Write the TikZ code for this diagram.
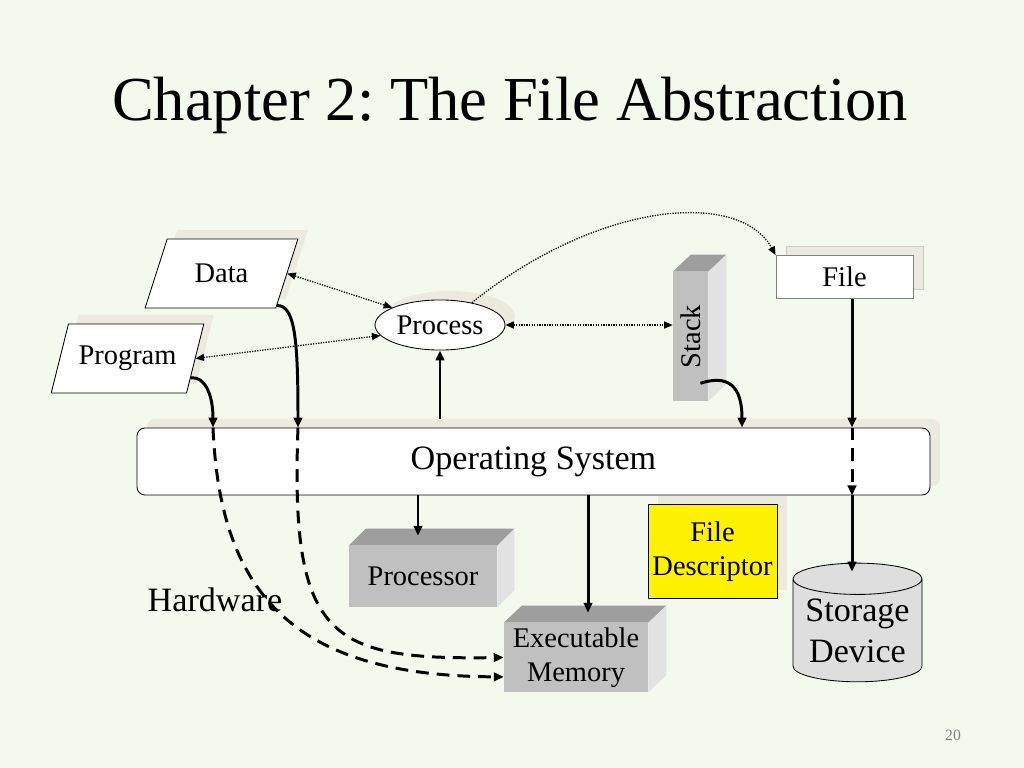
\documentclass[tikz,border=0pt]{standalone}
\usepackage{fontspec}
\setmainfont{Liberation Serif}
\frenchspacing
\usetikzlibrary{shapes.geometric,shadows,arrows.meta,calc}
\definecolor{bgc}{HTML}{F3F9EC}
\definecolor{shadec}{HTML}{ECEADF}
\definecolor{boxfront}{HTML}{C0C0C0}
\definecolor{boxtop}{HTML}{9E9E9E}
\definecolor{boxside}{HTML}{E2E2E2}
\definecolor{storc}{HTML}{DEDEDE}
\tikzset{%
    lbl/.style={font=\fontsize{20}{24}\selectfont},
    biglbl/.style={font=\fontsize{24}{29}\selectfont},
    sh/.style={drop shadow={shadow xshift=7pt,shadow yshift=6.3pt,fill=shadec,opacity=1,#1}},
    sh/.default={},
    para/.style={trapezium,trapezium left angle=60,trapezium right angle=120,
        trapezium stretches=true,minimum width=107.6pt,minimum height=48.5pt,
        inner sep=0pt,draw,line width=0.6pt,fill=white,sh,lbl},
    front/.style={fill=boxfront,inner sep=0pt,lbl},
    conn/.style={line width=2.1pt,-{Triangle[length=7pt,width=6pt]}},
    dashconn/.style={conn,dash pattern=on 9pt off 5.6pt},
    dotline/.style={line width=0.9pt,dash pattern=on 0.9pt off 0.9pt},
    dotconn/.style={dotline,{Triangle[length=6pt,width=5pt]}-{Triangle[length=6pt,width=5pt]}}
}
\begin{document}
\begin{tikzpicture}[x=0.703125pt,y=-0.703125pt]
        \fill[bgc] (0,0) rectangle (1024,768);
        \useasboundingbox (0,0) rectangle (1024,768);

        \node[font=\fontsize{44}{53}\selectfont,anchor=base] (title) at (510,121) {Chapter 2: The File Abstraction};

        \node[para] (data) at (221.5,273.5) {Data};
        \node[para] (prog) at (127.5,358.5) {Program};
        \node[ellipse,draw,line width=0.6pt,fill=white,minimum width=91.4pt,minimum height=35.2pt,inner sep=0pt,sh,lbl] (proc) at (440,325) {Process};

        % stack
        \node[front,minimum width=24.6pt,minimum height=90.7pt] (stack) at (690.5,336.5) {};
        \fill[boxtop] (stack.north west) -- (stack.north east) -- ++(18,-17) -- ([shift={(18,-17)}]stack.north west) -- cycle;
        \fill[boxside] (stack.north east) -- ++(18,-17) -- ([shift={(18,-17)}]stack.south east) -- (stack.south east) -- cycle;
        \node[rotate=90,lbl] (stacktxt) at (stack.center) {Stack};

        \node[draw=gray,line width=0.6pt,fill=white,minimum width=96.3pt,minimum height=30.2pt,inner sep=0pt,lbl,sh={draw=gray!40}] (file) at (844.5,277) {File};

        \node[draw,line width=0.6pt,fill=yellow,minimum width=90.7pt,minimum height=66.1pt,align=center,inner sep=0pt,sh,lbl] (fd) at (712.5,551.5) {File\\Descriptor};
        \node[draw,line width=0.6pt,fill=white,rounded corners=5.6pt,minimum width=557.6pt,minimum height=47.1pt,sh,biglbl] (os) at (533.5,461.5) {Operating System};

        % hardware boxes
        \node[front,minimum width=104.1pt,minimum height=42.9pt] (cpu) at (423,576.5) {Processor};
        \fill[boxtop] (cpu.north west) -- (cpu.north east) -- ++(17,-17) -- ([shift={(17,-17)}]cpu.north west) -- cycle;
        \fill[boxside] (cpu.north east) -- ++(17,-17) -- ([shift={(17,-17)}]cpu.south east) -- (cpu.south east) -- cycle;

        \node[front,minimum width=101.25pt,minimum height=48.5pt,align=center] (exec) at (576,657.5) {Executable\\Memory};
        \fill[boxtop] (exec.north west) -- (exec.north east) -- ++(18,-17) -- ([shift={(18,-17)}]exec.north west) -- cycle;
        \fill[boxside] (exec.north east) -- ++(18,-17) -- ([shift={(18,-17)}]exec.south east) -- (exec.south east) -- cycle;

        \node[cylinder,shape border rotate=90,aspect=0.3,draw,line width=0.6pt,fill=storc,minimum width=90.7pt,inner xsep=0pt,inner ysep=2.5pt,align=center,biglbl] (storage) at (857.5,630.5) {Storage\\Device};

        \node[biglbl] (hw) at (215,600) {Hardware};
        \node[font=\fontsize{11}{13}\selectfont,text=gray] (pnum) at (953,735) {20};

        \coordinate (xprog) at (213,0);
        \coordinate (xdata) at (298,0);
        \coordinate (xstack) at (742,0);
        \coordinate (xfile) at (852,0);
        \coordinate (xcpu) at (418,0);
        \coordinate (xmem) at (588,0);

        % dotted links
        \draw[dotconn] (data.east) -- (proc.160);
        \draw[dotconn] (prog.east) -- (proc.190);
        \draw[dotconn] (proc.east) -- (proc.east -| stack.west);
        \draw[dotline,-{Triangle[length=6pt,width=5pt]}] (proc.35) .. controls (600,200) and (740,190) .. (file.north west);

        % into the OS
        \draw[conn] (data.-30) .. controls (295,305) and (298,340) .. (xdata |- os.north);
        \draw[conn] (prog.-17) .. controls (205,376) and (213,395) .. (xprog |- os.north);
        \draw[conn] ($(proc.south |- os.north)+(0,-9)$) -- (proc.south);
        \draw[conn] ($(stack.south)+(10,-18)$) .. controls (735,372) and (742,395) .. (xstack |- os.north);
        \draw[conn] (xfile |- file.south) -- (xfile |- os.north);

        % through the OS
        \draw[dashconn] (xdata |- os.north) .. controls (290,640) and (330,660) .. (exec.west);
        \draw[dashconn] (xprog |- os.north) .. controls (220,600) and (300,676) .. (exec.195);
        \draw[dashconn] (xfile |- os.north) -- (xfile |- os.south);
        \draw[conn,shorten >=-6.3pt] (xfile |- os.south) -- (xfile |- storage.north);
        \draw[conn,shorten >=7pt] (xcpu |- os.south) -- (xcpu |- cpu.north);
        \draw[conn,shorten >=7pt] (xmem |- os.south) -- (xmem |- exec.north);
    \end{tikzpicture}
\end{document}
